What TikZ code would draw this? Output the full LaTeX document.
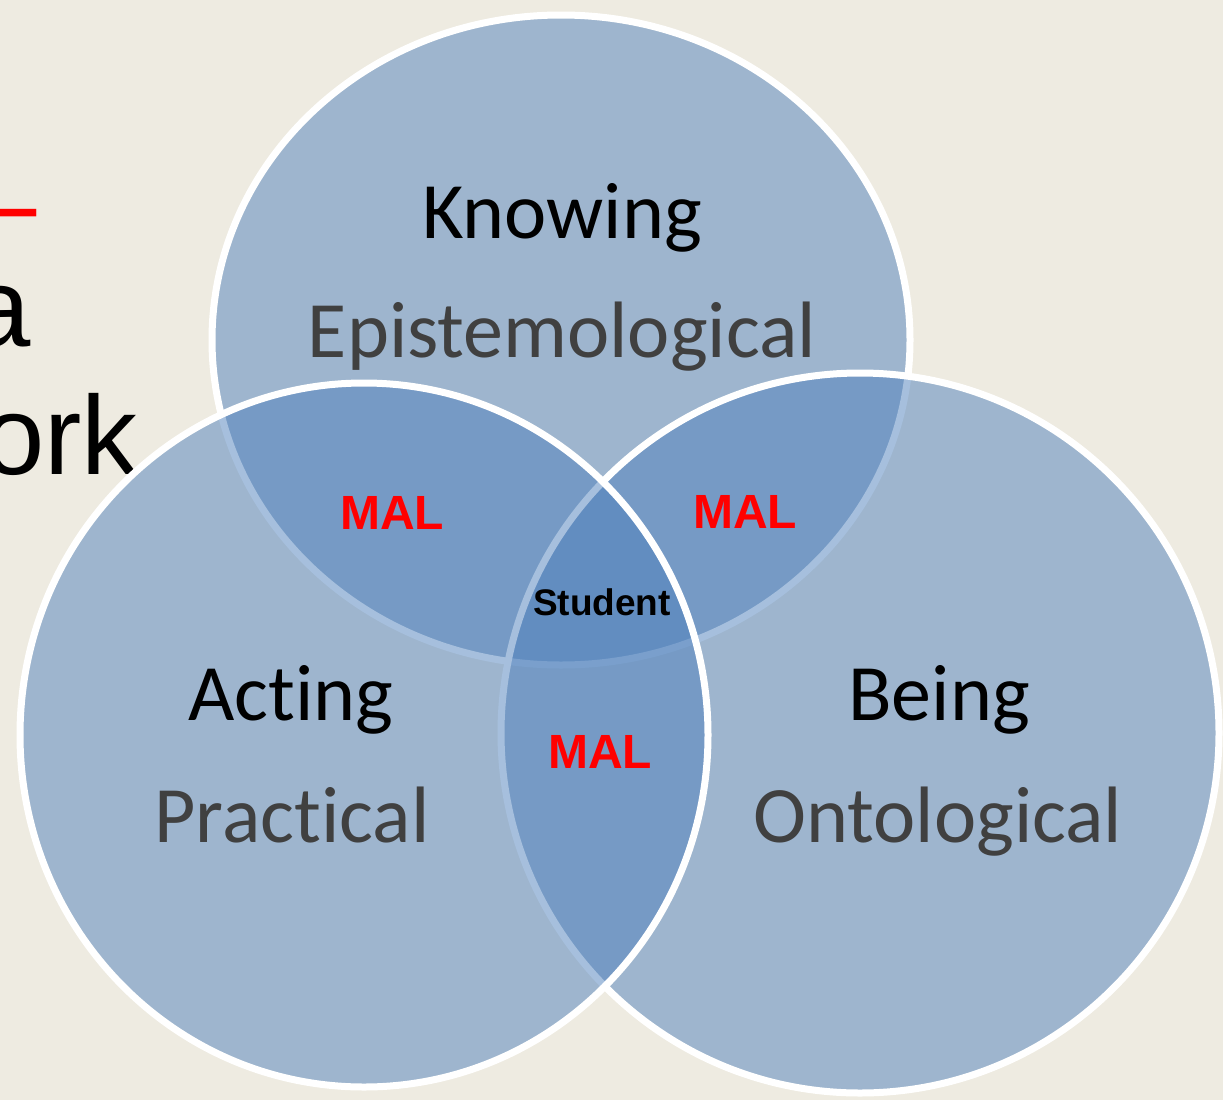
\documentclass[tikz,border=0pt]{standalone}
\usepackage{fontspec}
\setmainfont{Carlito}[Ligatures=NoCommon]
\newfontfamily\arialfont{Liberation Sans}
\definecolor{slidebg}{HTML}{EEEBE1}
\definecolor{vennblue}{HTML}{4F81BD}
\definecolor{subgray}{HTML}{404040}
\definecolor{malred}{HTML}{FF0000}

\begin{document}
\begin{tikzpicture}[x=1pt, y=-1pt,
  venn/.style={fill=vennblue, fill opacity=0.5, draw=white, line width=7pt},
  heading/.style={anchor=base, inner sep=0pt, font=\fontsize{80}{96}\selectfont},
  subhead/.style={heading, text=subgray},
  mal/.style={anchor=base, inner sep=0pt, text=malred, font=\arialfont\bfseries\fontsize{48}{58}\selectfont},
  slide/.style={anchor=base east, inner sep=0pt, font=\arialfont\fontsize{112}{134}\selectfont}]

  \fill [slidebg] (0,0) rectangle (1223,1100);
  \useasboundingbox (0,0) rectangle (1223,1100);

  % slide title, cut off at the left edge
  \node [slide, text=malred] (dash)     at (37,241)  {–};
  \node [slide]              (titlea)   at (31,346)  {a};
  \node [slide]              (titleork) at (138,474) {ork};

  % the three sets
  \draw [venn] (561,340) ellipse [x radius=349pt, y radius=325pt];
  \draw [venn] (860,733) ellipse [x radius=359pt, y radius=360pt];
  \draw [venn] (364,735) ellipse [x radius=344pt, y radius=352pt];

  \node [heading] (knowing) at (562,238) {Knowing};
  \node [subhead] (episte)  at (562,357) {Epistemological};
  \node [heading] (acting)  at (291,720) {Acting};
  \node [subhead] (pract)   at (292,842) {Practical};
  \node [heading] (being)   at (939,720) {Being};
  \node [subhead] (onto)    at (938,842) {Ontological};

  \node [mal] (malka) at (392,529) {MAL};
  \node [mal] (malkb) at (745,528) {MAL};
  \node [mal] (malab) at (600,768) {MAL};

  \node [anchor=base, inner sep=0pt, font=\arialfont\bfseries\fontsize{37}{44}\selectfont]
    (student) at (602,615) {Student};
\end{tikzpicture}
\end{document}
